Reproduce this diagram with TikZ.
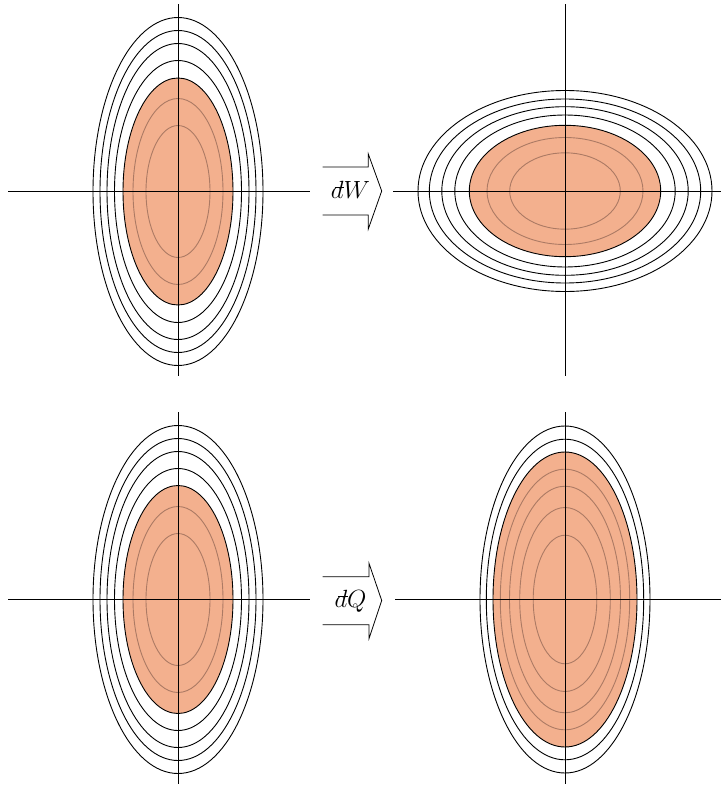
\documentclass[tikz,border=0pt]{standalone}
\usetikzlibrary{calc}
\definecolor{fillc}{RGB}{243,176,142}
\definecolor{innerc}{RGB}{172,122,100}
\newcommand{\dbarx}{\rlap{\kern0.16em\rule[0.44em]{0.42em}{0.065em}}d}
\tikzset{
  axis/.style={draw=black, line width=0.9pt},
  outer/.style={draw=black, line width=0.9pt},
  filled/.style={draw=black, fill=fillc, line width=0.9pt},
  inner/.style={draw=innerc, line width=0.9pt},
  work/.style={draw=black, line width=0.8pt, line join=miter},
  lbl/.style={inner sep=0pt, font=\fontsize{23}{27}\selectfont}
}
\begin{document}
\begin{tikzpicture}[x=1pt, y=-1pt]
\useasboundingbox (0,0) rectangle (721,787);
% ---------- top left ----------
\coordinate (tl) at (178,191.5);
\foreach \a/\b in {85/174, 78/161, 71/148, 63.5/131}
  \draw[outer] (tl) ellipse [x radius=\a, y radius=\b];
\draw[filled] (tl) ellipse [x radius=55, y radius=113.5];
\foreach \a/\b in {45/93, 32/66}
  \draw[inner] (tl) ellipse [x radius=\a, y radius=\b];
\draw[axis] (8,191.5) -- (310,191.5);
\draw[axis] (178,4) -- (178,376);
% ---------- top right ----------
\coordinate (tr) at (565,191);
\foreach \a/\b in {147/100.5, 135.7/92, 123.2/84.3, 110.2/76}
  \draw[outer] (tr) ellipse [x radius=\a, y radius=\b];
\draw[filled] (tr) ellipse [x radius=95.7, y radius=65.7];
\foreach \a/\b in {78/53.5, 55.3/38.2}
  \draw[inner] (tr) ellipse [x radius=\a, y radius=\b];
\draw[axis] (393,191) -- (721,191);
\draw[axis] (565,4) -- (565,376);
% ---------- bottom left ----------
\coordinate (bl) at (178,599.5);
\foreach \a/\b in {85/174, 78/161, 71/148, 63.5/131}
  \draw[outer] (bl) ellipse [x radius=\a, y radius=\b];
\draw[filled] (bl) ellipse [x radius=55, y radius=114];
\foreach \a/\b in {45/93, 32/66}
  \draw[inner] (bl) ellipse [x radius=\a, y radius=\b];
\draw[axis] (8,599.5) -- (310,599.5);
\draw[axis] (178,412) -- (178,784);
% ---------- bottom right ----------
\coordinate (br) at (565,599.5);
\foreach \a/\b in {85/173.5, 78.7/160.3}
  \draw[outer] (br) ellipse [x radius=\a, y radius=\b];
\draw[filled] (br) ellipse [x radius=72, y radius=147.5];
\foreach \a/\b in {64.7/130.3, 55.5/113.3, 45.3/92, 31.8/64.3}
  \draw[inner] (br) ellipse [x radius=\a, y radius=\b];
\draw[axis] (395,599.5) -- (721,599.5);
\draw[axis] (565,412) -- (565,784);
% ---------- arrows ----------
\draw[work] (322.7,167) -- (368.3,167) -- (368.3,154) -- (381.7,191)
  -- (368.3,229) -- (368.3,215) -- (322.7,215);
\node[lbl, anchor=base] (w) at (350.5,198.3) {$\dbarx W$};
\draw[work] (322.7,576.7) -- (369,576.7) -- (369,563.3) -- (381.7,600.5)
  -- (369,638.5) -- (369,624.7) -- (322.7,624.7);
\node[lbl, anchor=base] (q) at (350.5,607.5) {$\dbarx Q$};
\end{tikzpicture}
\end{document}
